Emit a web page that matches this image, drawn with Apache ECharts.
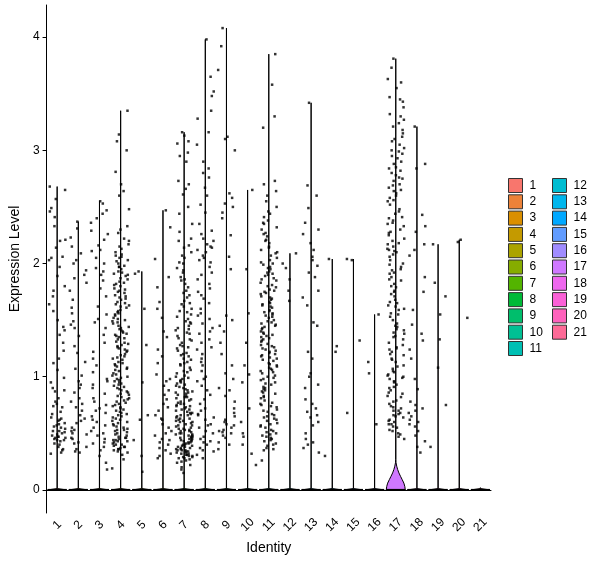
<!DOCTYPE html>
<html>
<head>
<meta charset="utf-8">
<script src="https://cdn.jsdelivr.net/npm/echarts@6/dist/echarts.min.js"></script>
<style>
  html, body { margin: 0; background: #fff; }
  #grafico { width: 600px; height: 568px; }
</style>
</head>
<body>
<div id="grafico"></div>
<script>
const clusters = ['1','2','3','4','5','6','7','8','9','10','11','12','13','14','15','16','17','18','19','20','21'];
const colores = ['#F8766D','#EC8239','#DA8F00','#C49A00','#ABA300','#86AC00','#53B400','#00BA38','#00BE6C','#00C094','#00C0B4',
  '#00BDD1','#00B6EC','#00A8FF','#619CFF','#A08CFF','#CF78FF','#EE67EE','#FB61D7','#FF62BC','#FE6A97'];
const ticksY = [0, 1, 2, 3, 4];

// valores de expresión (solo células > 0) leídos por cluster
const valores1 = [2.68,2.65,2.57,2.49,2.46,2.41,2.33,2.21,2.14,2.06,2.05,2.03,1.97,1.89,1.8,1.71,1.64,1.58,1.5,1.44,1.41,1.37,1.3,1.23,1.12,1.06,0.99,0.95,0.9,0.87,0.81,0.78,0.74,0.73,0.69,0.67,0.64,0.63,0.61,0.59,0.57,0.56,0.55,0.52,0.51,0.5,0.49,0.48,0.47,0.46,0.46,0.45,0.44,0.43,0.41,0.4,0.38,0.36,0.35,0.33,0.32,0.52,0.62,0.76,0.88,1.16,1.76,2.2,0.47,0.54,0.44,0.58];
const valores2 = [2.37,2.31,2.23,2.15,2.09,2.03,2.0,1.94,1.9,1.83,1.76,1.68,1.61,1.56,1.49,1.43,1.36,1.27,1.21,1.13,1.07,1.01,0.96,0.93,0.86,0.81,0.78,0.73,0.7,0.66,0.61,0.59,0.55,0.52,0.5,0.49,0.46,0.45,0.42,0.41,0.38,0.36,0.34,0.33,1.87,0.9,0.63,1.46,0.76,0.53];
const valores3 = [2.55,2.53,2.47,2.4,2.36,2.29,2.26,2.21,2.16,2.11,2.05,2.0,1.96,1.93,1.85,1.78,1.71,1.62,1.55,1.48,1.43,1.37,1.3,1.22,1.16,1.1,1.04,0.98,0.93,0.9,0.85,0.81,0.78,0.75,0.72,0.68,0.65,0.62,0.6,0.57,0.55,0.52,0.5,0.48,0.45,0.42,0.41,0.38,0.35,0.3,0.24,0.18,2.44,1.9,1.51,0.96,0.7,2.12];
const valores4 = [3.35,3.14,3.08,3.0,2.81,2.7,2.64,2.6,2.48,2.33,2.3,2.27,2.22,2.2,2.15,2.13,2.1,2.08,2.06,2.05,2.03,2.02,2.0,1.98,1.97,1.95,1.93,1.92,1.9,1.89,1.87,1.86,1.84,1.82,1.81,1.8,1.78,1.76,1.75,1.74,1.72,1.71,1.69,1.68,1.66,1.65,1.64,1.62,1.61,1.59,1.58,1.56,1.55,1.54,1.52,1.51,1.49,1.48,1.47,1.45,1.44,1.42,1.41,1.4,1.38,1.37,1.35,1.34,1.33,1.31,1.3,1.29,1.27,1.26,1.24,1.23,1.22,1.2,1.19,1.17,1.16,1.15,1.13,1.12,1.1,1.09,1.08,1.06,1.05,1.03,1.02,1.01,0.99,0.98,0.96,0.95,0.94,0.92,0.91,0.89,0.88,0.87,0.85,0.84,0.82,0.81,0.8,0.78,0.77,0.75,0.74,0.73,0.71,0.7,0.68,0.67,0.66,0.64,0.63,0.61,0.6,0.59,0.57,0.56,0.54,0.53,0.52,0.5,0.49,0.48,0.47,0.46,0.45,0.44,0.43,0.42,0.41,0.4,0.39,0.38,0.37,0.36,0.35,0.34,0.33,0.31,0.27,0.19,1.97,1.83,1.7,1.57,1.43,1.36,1.25,1.18,1.07,0.97,0.9,0.83,0.76,0.69,0.62,0.55,0.51,0.44,0.4,1.63,1.5,1.28,1.11,1.0,0.86,0.79,0.65,0.58,0.46,2.07,1.91,1.77,0.72,0.93,1.39,0.38,0.53,0.43,0.36,2.17];
const valores5 = [1.93,1.91,1.6,1.28,0.95,0.66,0.62,0.44,0.3,0.16];
const valores6 = [2.47,2.32,2.04,1.88,1.79,1.66,1.52,1.4,1.35,1.24,1.12,1.02,0.98,0.92,0.88,0.8,0.76,0.7,0.66,0.62,0.58,0.55,0.5,0.48,0.45,0.42,0.4,0.37,0.35,0.32,0.3,0.28,0.63,0.84,1.18,0.52,0.73,0.44,1.6,0.96];
const valores7 = [3.16,3.13,3.08,3.06,2.98,2.95,2.9,2.73,2.7,2.66,2.61,2.5,2.35,2.22,2.2,2.16,2.14,2.1,2.05,2.01,2.0,1.96,1.92,1.88,1.85,1.82,1.79,1.76,1.72,1.7,1.67,1.64,1.62,1.6,1.58,1.55,1.53,1.51,1.49,1.47,1.45,1.43,1.41,1.39,1.38,1.36,1.34,1.32,1.3,1.28,1.27,1.25,1.23,1.21,1.2,1.18,1.16,1.15,1.13,1.11,1.1,1.08,1.06,1.05,1.03,1.01,1.0,0.98,0.97,0.95,0.94,0.92,0.91,0.9,0.88,0.87,0.86,0.85,0.83,0.82,0.81,0.8,0.79,0.77,0.76,0.75,0.74,0.73,0.72,0.71,0.7,0.69,0.68,0.67,0.66,0.65,0.64,0.63,0.62,0.61,0.6,0.59,0.58,0.57,0.56,0.55,0.54,0.53,0.52,0.51,0.5,0.5,0.49,0.48,0.48,0.47,0.46,0.46,0.45,0.44,0.44,0.43,0.42,0.42,0.41,0.4,0.4,0.39,0.38,0.38,0.37,0.36,0.36,0.35,0.34,0.34,0.33,0.32,0.32,0.31,0.3,0.3,0.29,0.28,0.27,0.26,0.25,0.24,0.22,0.2,0.18,0.15,0.93,0.84,0.78,0.71,0.63,0.57,0.52,0.47,0.41,0.35,0.31,0.28,0.96,0.89,0.82,0.74,0.66,0.6,0.54,0.49,0.43,0.37,0.33,0.29,1.12,1.04,0.99,1.19,1.26,1.33,1.42,1.48,1.57,1.65,1.74,1.86,1.94,2.07,2.28,2.44,0.45,0.39,0.35,0.53,0.61,0.68,0.76,0.86];
const valores8 = [3.98,3.65,3.52,3.48,3.28,3.16,2.84,2.8,2.76,2.67,2.45,2.29,2.26,2.22,2.2,2.17,2.14,2.12,2.1,2.07,2.05,2.03,2.01,1.97,1.92,1.86,1.82,1.78,1.72,1.69,1.65,1.6,1.56,1.51,1.47,1.43,1.38,1.33,1.3,1.26,1.2,1.16,1.13,1.1,1.05,1.0,0.96,0.92,0.88,0.84,0.8,0.76,0.72,0.7,0.66,0.62,0.58,0.55,0.52,0.5,0.47,0.45,0.42,0.4,0.37,0.34,0.31,0.28,2.35,2.52,2.6,1.9,1.75,1.54,1.24,0.98,0.64,0.43,0.57,3.05,2.9,3.35,1.4,2.15,0.67,0.35];
const valores9 = [4.08,3.71,3.12,3.1,3.0,2.58,2.53,2.5,2.45,2.4,2.25,1.95,1.54,1.5,1.45,1.4,1.3,1.2,1.1,0.98,0.9,0.83,0.78,0.72,0.68,0.65,0.6,0.57,0.55,0.53,0.51,0.5,0.48,0.46,0.42,0.4,0.36,2.62,1.03,0.88,0.62,0.58,0.52,3.92,2.06];
const valores10 = [2.65,1.95,1.56,1.3,1.1,1.02,0.95,0.72,0.6,0.5,0.47,0.4,0.32,0.22];
const valores11 = [3.85,3.58,3.3,3.2,2.73,2.7,2.64,2.6,2.55,2.5,2.44,2.41,2.38,2.35,2.32,2.3,2.27,2.24,2.21,2.18,2.15,2.12,2.09,2.07,2.05,2.03,2.01,1.99,1.97,1.95,1.93,1.91,1.89,1.87,1.85,1.83,1.81,1.79,1.77,1.75,1.73,1.71,1.7,1.68,1.66,1.64,1.62,1.61,1.59,1.57,1.55,1.54,1.52,1.5,1.49,1.47,1.45,1.44,1.42,1.4,1.39,1.37,1.36,1.34,1.32,1.31,1.29,1.28,1.26,1.25,1.23,1.21,1.2,1.18,1.17,1.15,1.14,1.12,1.1,1.09,1.07,1.06,1.04,1.03,1.01,0.99,0.97,0.95,0.93,0.91,0.89,0.87,0.85,0.83,0.81,0.79,0.77,0.75,0.73,0.71,0.69,0.67,0.65,0.63,0.61,0.59,0.57,0.55,0.53,0.51,0.49,0.47,0.45,0.43,0.41,0.39,0.37,0.35,0.26,2.36,2.2,2.1,2.0,1.92,1.86,1.8,1.74,1.69,1.63,1.58,1.53,1.48,1.43,1.38,1.33,1.27,1.22,1.16,1.11,1.05,1.0,0.94,0.88,0.82,0.76,0.7,0.64,0.58,0.52,0.46,0.4,0.36,0.44,0.5,0.56,0.62,1.96,1.76,1.56,1.35,1.19,1.08,0.98,0.86,0.74,2.26,2.46,2.14,1.9,1.65,1.46,1.24,0.9,0.66,0.48];
const valores12 = [2.09,2.0,1.96,1.86,1.76,1.67];
const valores13 = [3.42,2.69,2.6,2.49,2.36,2.3,2.26,2.18,2.12,2.06,2.03,1.98,1.92,1.88,1.76,1.7,1.63,1.48,1.45,1.22,1.16,1.03,1.0,0.93,0.9,0.8,0.76,0.72,0.69,0.64,0.6,0.57,0.5,0.45,0.4,0.37,0.33,0.66,0.42];
const valores14 = [2.04,1.27,1.22,0.3];
const valores15 = [2.04,2.03,1.32,0.68];
const valores16 = [1.55,1.13,1.03,0.58];
const valores17 = [3.81,3.73,3.63,3.6,3.47,3.45,3.43,3.27,3.21,3.18,3.15,3.12,3.08,3.05,3.02,2.99,2.97,2.88,2.85,2.82,2.8,2.78,2.76,2.73,2.7,2.67,2.64,2.62,2.6,2.58,2.56,2.44,2.41,2.38,2.35,2.33,2.3,2.27,2.2,2.18,2.15,2.13,2.11,2.08,2.03,2.0,1.97,1.94,1.91,1.85,1.82,1.79,1.76,1.73,1.68,1.65,1.62,1.59,1.56,1.53,1.47,1.44,1.41,1.38,1.35,1.33,1.28,1.25,1.22,1.19,1.16,1.1,1.07,1.04,1.01,0.98,0.95,0.93,0.82,0.73,0.7,0.67,0.64,0.61,0.58,0.56,0.47,3.55,3.38,3.32,3.24,3.0,2.93,2.9,2.75,2.69,2.52,2.48,2.46,2.4,2.25,2.22,2.17,2.1,2.06,1.99,1.95,1.88,1.86,1.8,1.71,1.66,1.6,1.5,1.45,1.39,1.3,1.26,1.2,1.13,1.09,1.02,0.99,0.91,0.88,0.85,0.79,0.76,0.7,0.65,0.6,0.55,0.52,0.5,0.49,0.62,0.68,0.72,0.78,0.86,0.96,1.05,1.15,1.24,1.36,1.55,1.75,1.92,2.12,2.28,2.55,2.65,2.84,3.1,3.3,2.95,2.36,1.63,1.42,0.45,0.53,0.58,0.66,0.74,0.83,0.9,1.0];
const valores18 = [3.21,2.88,2.84,2.43,2.33,2.28,2.17,2.12,2.07,1.88,1.75,1.59,1.46,1.38,1.32,1.24,1.16,0.98,0.89,0.78,0.75,0.72,0.68,0.65,0.6,0.56,0.52,0.43,0.38,0.33,0.62,0.7,0.48,0.58];
const valores19 = [2.17,1.83,1.71,1.55,1.33,1.08,0.75,0.38];
const valores20 = [2.21,2.19,1.52];
const valores21 = [];

// perfil del violín (valor, ancho relativo) en la base
const perfilBase = [[0, 1], [0.012, 0.01]];
const perfil17 = [[0, 1], [0.03, 0.95], [0.06, 0.85], [0.09, 0.68], [0.12, 0.5], [0.15, 0.33], [0.18, 0.2], [0.21, 0.1], [0.24, 0.03], [0.27, 0.01]];

const valoresPorCluster = [valores1, valores2, valores3, valores4, valores5, valores6, valores7, valores8, valores9, valores10,
  valores11, valores12, valores13, valores14, valores15, valores16, valores17, valores18, valores19, valores20, valores21];

const fuente = 'Liberation Sans';

function dibujarViolin(api, perfil) {
    const cat = api.value(0);
    const tope = Math.max(api.value(1), 0.02);
    const medio = api.size([1, 0])[0] * 0.45;
    const izq = [];
    const der = [];
    perfil.forEach(([v, w]) => {
        if (v < tope) {
            const p = api.coord([cat, v]);
            izq.push([p[0] - medio * w, p[1]]);
            der.push([p[0] + medio * w, p[1]]);
        }
    });
    const arriba = api.coord([cat, tope]);
    const base = api.coord([cat, 0]);
    const puntos = izq.concat([arriba], der.reverse());
    return {
        type: 'group',
        children: [{
            type: 'polygon',
            shape: { points: puntos },
            style: { fill: api.visual('color'), stroke: '#000', lineWidth: 1 }
        }, {
            // borde inferior del violín (muchas células con valor 0)
            type: 'line',
            shape: { x1: base[0] - medio, y1: base[1], x2: base[0] + medio, y2: base[1] },
            style: { stroke: '#000', lineWidth: 2 }
        }]
    };
}

const seriesViolin = clusters.map((nombre, i) => {
    const vals = valoresPorCluster[i];
    const maximo = vals.length ? Math.max(...vals) : 0;
    const perfil = nombre === '17' ? perfil17 : perfilBase;
    return {
        name: nombre,
        type: 'custom',
        coordinateSystem: 'cartesian2d',
        itemStyle: { color: colores[i] },
        data: [[i, maximo]],
        encode: { x: 0, y: 1 },
        z: 2,
        renderItem: (params, api) => dibujarViolin(api, perfil)
    };
});

const puntos = [];
valoresPorCluster.forEach((vals, i) => {
    vals.forEach(v => puntos.push([i, v]));
});

const leyendaBase = {
    orient: 'vertical',
    top: 178,
    padding: 0,
    icon: 'rect',
    itemWidth: 14,
    itemHeight: 14,
    itemGap: 1.3,
    selectedMode: false,
    itemStyle: { borderColor: '#333', borderWidth: 1 },
    textStyle: { fontFamily: fuente, fontSize: 12, color: '#000', padding: [0, 0, 0, 2] }
};

const chart = echarts.init(document.getElementById('grafico'));

const option = {
    animation: false,
    textStyle: { fontFamily: fuente },
    grid: { left: 45, right: 109, top: 5, bottom: 55 },
    legend: [
        Object.assign({}, leyendaBase, { left: 508, data: clusters.slice(0, 11) }),
        Object.assign({}, leyendaBase, { left: 552, data: clusters.slice(11) })
    ],
    xAxis: {
        type: 'category',
        data: clusters,
        jitter: 17,
        jitterOverlap: true,
        name: 'Identity',
        nameLocation: 'middle',
        nameGap: 27,
        nameTextStyle: { fontSize: 14, color: '#000' },
        axisLine: { lineStyle: { color: '#000', width: 1 } },
        axisTick: { alignWithLabel: true, length: 4, lineStyle: { color: '#000' } },
        axisLabel: { rotate: 45, interval: 0, fontSize: 12, color: '#000', margin: 12, align: 'center', verticalAlign: 'middle' },
        splitLine: { show: false }
    },
    yAxis: {
        type: 'value',
        min: -0.204,
        max: 4.284,
        name: 'Expression Level',
        nameLocation: 'middle',
        nameRotate: 90,
        nameGap: 12,
        nameTextStyle: { fontSize: 14, color: '#000' },
        axisLine: { show: true, lineStyle: { color: '#000', width: 1 } },
        axisTick: { show: true, length: 4, customValues: ticksY, lineStyle: { color: '#000' } },
        axisLabel: { fontSize: 12, color: '#000', margin: 7, customValues: ticksY },
        splitLine: { show: false }
    },
    series: seriesViolin.concat([{
        name: 'celulas',
        type: 'scatter',
        data: puntos,
        symbol: 'rect',
        symbolSize: 2.5,
        itemStyle: { color: '#000' },
        silent: true,
        z: 3
    }])
};

chart.setOption(option);
</script>
</body>
</html>
